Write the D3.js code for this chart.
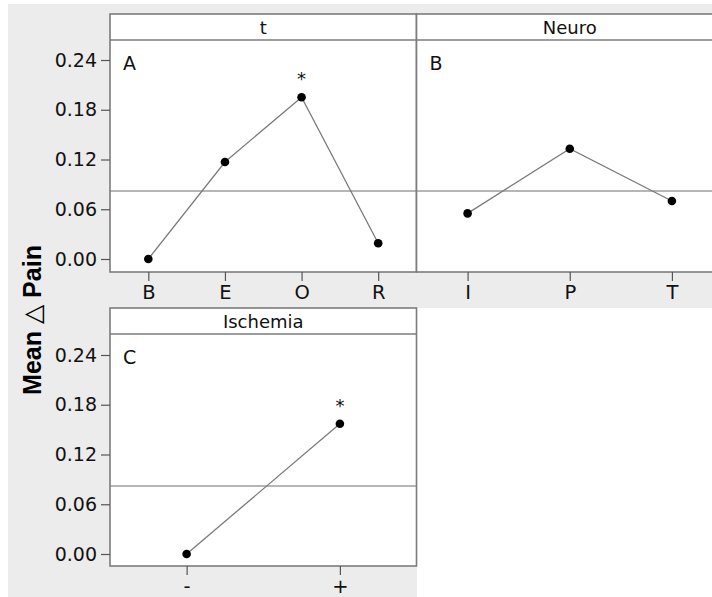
<!DOCTYPE html>
<html>
<head>
<meta charset="utf-8">
<script src="https://cdn.jsdelivr.net/npm/d3@7"></script>
<style>
  html, body { margin: 0; padding: 0; background: #ffffff; }
  svg { display: block; }
</style>
</head>
<body>
<div id="chart"></div>
<script>
// ---- Data ----
const tLevels = ["B", "E", "O", "R"];
const tMeans = [0.0, 0.117, 0.195, 0.019];
const neuroLevels = ["I", "P", "T"];
const neuroMeans = [0.055, 0.133, 0.070];
const ischLevels = ["-", "+"];
const ischMeans = [0.0, 0.157];
const grandMean = 0.082;
const yTicks = [0.00, 0.06, 0.12, 0.18, 0.24];
const tStars = ["O"];
const ischStars = ["+"];
const panelTitles = ["t", "Neuro", "Ischemia"];
const panelLetters = ["A", "B", "C"];

const W = 712, H = 597;
const FONT = "'DejaVu Sans', Verdana, sans-serif";
const svg = d3.select("#chart").append("svg").attr("width", W).attr("height", H);

// white page + grey window background
svg.append("rect").attr("width", W).attr("height", H).attr("fill", "#ffffff");
svg.append("rect").attr("x", 8).attr("y", 4).attr("width", W - 8).attr("height", 304).attr("fill", "#ececec");
svg.append("rect").attr("x", 8).attr("y", 4).attr("width", 409).attr("height", H - 4).attr("fill", "#ececec");

const panels = [
  { title: panelTitles[0], letter: panelLetters[0], levels: tLevels, means: tMeans, stars: tStars,
    x0: 110, x1: 416.5, top: 14, stripB: 40, bottom: 272, zeroY: 259, topTickY: 60, yAxis: true },
  { title: panelTitles[1], letter: panelLetters[1], levels: neuroLevels, means: neuroMeans, stars: [],
    x0: 416.5, x1: 723, top: 14, stripB: 40, bottom: 272, zeroY: 259, topTickY: 60, yAxis: false },
  { title: panelTitles[2], letter: panelLetters[2], levels: ischLevels, means: ischMeans, stars: ischStars,
    x0: 110, x1: 416.5, top: 308, stripB: 334, bottom: 566, zeroY: 554, topTickY: 355, yAxis: true }
];

const borderCol = "#7c7c7c";

panels.forEach(p => {
  const g = svg.append("g");
  const pxPerUnit = (p.zeroY - p.topTickY) / 0.24;
  const y = d3.scaleLinear()
    .domain([(p.zeroY - p.bottom) / pxPerUnit, (p.zeroY - p.stripB) / pxPerUnit])
    .range([p.bottom, p.stripB]);
  const x = d3.scalePoint().domain(p.levels).range([p.x0, p.x1]).padding(0.5);

  g.append("rect").attr("x", p.x0).attr("y", p.top).attr("width", p.x1 - p.x0).attr("height", p.bottom - p.top)
    .attr("fill", "#ffffff");

  // reference (grand mean) line
  g.append("line").attr("x1", p.x0).attr("x2", p.x1).attr("y1", y(grandMean)).attr("y2", y(grandMean))
    .attr("stroke", "#6e6e6e").attr("stroke-width", 1.2);

  // data line + points
  const line = d3.line().x((d, i) => x(p.levels[i])).y(d => y(d));
  g.append("path").datum(p.means).attr("d", line).attr("fill", "none")
    .attr("stroke", "#7a7a7a").attr("stroke-width", 1.3);
  g.selectAll("circle.pt").data(p.means).enter().append("circle")
    .attr("cx", (d, i) => x(p.levels[i])).attr("cy", d => y(d)).attr("r", 4.3).attr("fill", "#000");

  // significance stars
  p.stars.forEach(s => {
    const i = p.levels.indexOf(s);
    g.append("text").attr("x", x(s)).attr("y", y(p.means[i]) - 12).attr("text-anchor", "middle")
      .attr("font-family", FONT).attr("font-size", 18).attr("fill", "#111").text("*");
  });

  // panel letter
  g.append("text").attr("x", p.x0 + 13).attr("y", p.stripB + 30).attr("font-family", FONT)
    .attr("font-size", 19).attr("fill", "#111").text(p.letter);

  // frame
  g.append("rect").attr("x", p.x0).attr("y", p.top).attr("width", p.x1 - p.x0).attr("height", p.bottom - p.top)
    .attr("fill", "none").attr("stroke", borderCol).attr("stroke-width", 1.6);
  g.append("line").attr("x1", p.x0).attr("x2", p.x1).attr("y1", p.stripB).attr("y2", p.stripB)
    .attr("stroke", borderCol).attr("stroke-width", 1.6);
  g.append("text").attr("x", (p.x0 + p.x1) / 2).attr("y", (p.top + p.stripB) / 2 + 6.5)
    .attr("text-anchor", "middle").attr("font-family", FONT).attr("font-size", 18).attr("fill", "#111")
    .text(p.title);

  // x axis
  const xAxis = d3.axisBottom(x).tickSize(9).tickPadding(4);
  const xa = g.append("g").attr("transform", `translate(0,${p.bottom})`).call(xAxis);
  xa.select(".domain").remove();
  xa.selectAll(".tick line").attr("stroke", "#555").attr("stroke-width", 1.2);
  xa.selectAll(".tick text").attr("font-family", FONT).attr("font-size", 19.5).attr("fill", "#111");

  // y axis
  if (p.yAxis) {
    const yAxis = d3.axisLeft(y).tickValues(yTicks).tickFormat(d3.format(".2f")).tickSize(9).tickPadding(4);
    const ya = g.append("g").attr("transform", `translate(${p.x0},0)`).call(yAxis);
    ya.select(".domain").remove();
    ya.selectAll(".tick line").attr("stroke", "#555").attr("stroke-width", 1.2);
    ya.selectAll(".tick text").attr("font-family", FONT).attr("font-size", 19).attr("fill", "#111");
  }
});

// y axis title
const yt = svg.append("text").attr("transform", "translate(41,320) rotate(-90)")
  .attr("text-anchor", "middle").attr("font-family", "'Liberation Sans', Arial, sans-serif")
  .attr("font-size", 25).attr("font-weight", "bold").attr("fill", "#000");
yt.append("tspan").text("Mean ");
yt.append("tspan").attr("font-weight", "normal").attr("font-family", "'DejaVu Sans', sans-serif").text("△");
yt.append("tspan").text(" Pain");
</script>
</body>
</html>
